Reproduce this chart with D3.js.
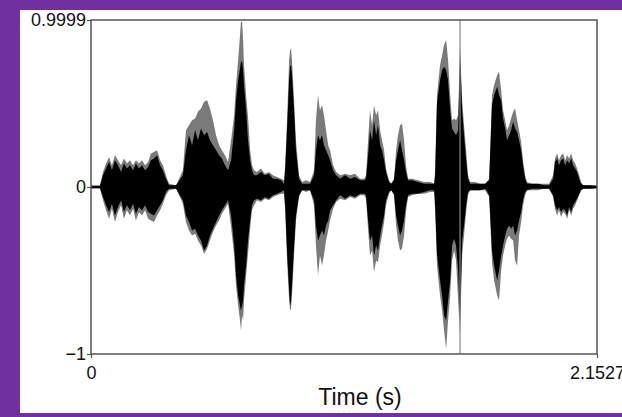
<!DOCTYPE html>
<html><head><meta charset="utf-8">
<script src="https://cdn.jsdelivr.net/npm/d3@7"></script>
<style>html,body{margin:0;padding:0;background:#7030a0;} svg{display:block}</style>
</head><body>
<svg id="c" width="622" height="417"></svg>
<script>
// Time (s) of envelope key points
const times = [
0, 0.038, 0.051, 0.064, 0.077, 0.089, 0.102, 0.115, 0.128, 0.140,
0.153, 0.166, 0.179, 0.191, 0.204, 0.217, 0.230, 0.243, 0.255, 0.268,
0.281, 0.294, 0.306, 0.319, 0.332, 0.362, 0.391, 0.404, 0.417, 0.430,
0.443, 0.455, 0.468, 0.481, 0.494, 0.506, 0.519, 0.532, 0.545, 0.557,
0.570, 0.583, 0.596, 0.609, 0.617, 0.626, 0.634, 0.638, 0.643, 0.647,
0.651, 0.660, 0.668, 0.677, 0.685, 0.694, 0.706, 0.723, 0.740, 0.757,
0.774, 0.791, 0.809, 0.821, 0.826, 0.834, 0.843, 0.847, 0.851, 0.855,
0.864, 0.872, 0.885, 0.898, 0.915, 0.932, 0.949, 0.957, 0.966, 0.974,
0.983, 0.991, 1.000, 1.009, 1.017, 1.030, 1.043, 1.060, 1.081, 1.102,
1.123, 1.145, 1.162, 1.170, 1.179, 1.187, 1.196, 1.204, 1.213, 1.221,
1.230, 1.238, 1.247, 1.255, 1.268, 1.277, 1.289, 1.298, 1.306, 1.315,
1.323, 1.332, 1.340, 1.349, 1.366, 1.391, 1.417, 1.443, 1.460, 1.464,
1.472, 1.485, 1.494, 1.502, 1.511, 1.519, 1.528, 1.536, 1.545, 1.553,
1.562, 1.570, 1.579, 1.587, 1.596, 1.604, 1.613, 1.634, 1.655, 1.677,
1.694, 1.706, 1.715, 1.728, 1.736, 1.745, 1.753, 1.762, 1.770, 1.779,
1.787, 1.796, 1.804, 1.813, 1.821, 1.830, 1.838, 1.847, 1.855, 1.877,
1.902, 1.928, 1.949, 1.966, 1.974, 1.983, 1.991, 2.000, 2.009, 2.017,
2.026, 2.034, 2.043, 2.051, 2.060, 2.068, 2.077, 2.085, 2.094, 2.123,
2.1527];

// dense (black) envelope, upper and lower
const blackTop = [
.006,.006,.07,.11,.15,.10,.16,.13,.09,.14,
.11,.13,.10,.14,.11,.13,.10,.12,.16,.17,
.19,.13,.10,.05,.01,.01,.07,.22,.31,.25,
.34,.28,.35,.31,.33,.28,.25,.22,.19,.17,
.13,.10,.16,.34,.52,.64,.71,.75,.75,.70,
.61,.46,.28,.16,.10,.07,.07,.09,.07,.08,
.05,.05,.04,.02,.10,.34,.64,.72,.73,.67,
.46,.22,.05,.02,.02,.02,.07,.22,.31,.28,
.31,.25,.22,.19,.16,.10,.07,.05,.07,.05,
.06,.04,.04,.05,.19,.34,.28,.40,.31,.37,
.25,.22,.16,.09,.03,.02,.04,.16,.22,.28,
.22,.16,.09,.04,.04,.03,.02,.02,.02,.07,
.50,.64,.70,.72,.70,.64,.46,.35,.33,.31,
.34,.79,.46,.31,.16,.05,.02,.02,.02,.02,
.04,.49,.55,.60,.55,.52,.41,.35,.28,.31,
.34,.39,.35,.33,.28,.22,.13,.05,.02,.02,
.02,.01,.01,.05,.15,.17,.13,.16,.17,.13,
.16,.14,.17,.13,.11,.09,.05,.02,.01,.01,
.006];
const blackBottom = [
-.006,-.006,-.06,-.11,-.15,-.10,-.17,-.12,-.08,-.15,
-.11,-.14,-.10,-.16,-.12,-.14,-.11,-.15,-.16,-.17,
-.14,-.11,-.08,-.03,-.01,-.01,-.08,-.17,-.21,-.26,
-.25,-.29,-.32,-.38,-.35,-.29,-.25,-.21,-.17,-.14,
-.11,-.08,-.17,-.35,-.53,-.65,-.71,-.74,-.71,-.68,
-.59,-.47,-.32,-.20,-.11,-.08,-.07,-.08,-.06,-.07,
-.05,-.04,-.03,-.02,-.11,-.38,-.62,-.71,-.68,-.59,
-.35,-.17,-.05,-.02,-.02,-.02,-.08,-.23,-.32,-.29,
-.26,-.29,-.23,-.20,-.14,-.11,-.08,-.05,-.07,-.05,
-.06,-.04,-.04,-.05,-.20,-.32,-.29,-.41,-.35,-.38,
-.29,-.23,-.17,-.08,-.03,-.02,-.04,-.17,-.23,-.29,
-.26,-.20,-.11,-.05,-.04,-.04,-.03,-.02,-.02,-.11,
-.40,-.56,-.65,-.77,-.80,-.68,-.56,-.35,-.31,-.35,
-.50,-.80,-.32,-.23,-.11,-.03,-.02,-.02,-.02,-.01,
-.05,-.38,-.47,-.56,-.50,-.41,-.35,-.29,-.25,-.23,
-.25,-.23,-.29,-.26,-.20,-.15,-.08,-.03,-.02,-.01,
-.01,-.01,-.01,-.05,-.11,-.14,-.12,-.15,-.13,-.14,
-.17,-.12,-.15,-.11,-.09,-.07,-.04,-.02,-.01,-.01,
-.006];
// sparse (grey) outer envelope, upper and lower
const greyTop = [
.01,.01,.09,.14,.18,.13,.19,.16,.13,.17,
.14,.16,.13,.16,.14,.16,.13,.15,.20,.21,
.22,.16,.13,.07,.02,.01,.10,.34,.37,.40,
.41,.45,.47,.51,.52,.47,.40,.31,.25,.22,
.19,.15,.28,.43,.61,.76,.91,.99,.99,.88,
.73,.55,.42,.22,.13,.10,.09,.11,.08,.09,
.07,.06,.05,.04,.13,.40,.76,.82,.83,.76,
.52,.28,.07,.03,.04,.03,.10,.40,.55,.46,
.49,.43,.34,.25,.22,.13,.09,.07,.08,.07,
.08,.05,.05,.07,.28,.46,.37,.49,.43,.46,
.34,.28,.22,.11,.04,.02,.05,.22,.31,.37,
.38,.28,.13,.05,.05,.04,.03,.03,.02,.10,
.55,.73,.79,.85,.88,.76,.55,.40,.41,.40,
.43,.85,.52,.37,.22,.07,.03,.03,.02,.02,
.05,.55,.61,.67,.69,.58,.46,.40,.34,.37,
.41,.45,.47,.40,.34,.27,.16,.07,.03,.02,
.02,.02,.02,.07,.17,.20,.16,.19,.20,.16,
.19,.17,.20,.16,.14,.11,.07,.03,.01,.01,
.01];
const greyBottom = [
-.01,-.01,-.08,-.14,-.19,-.13,-.21,-.15,-.11,-.19,
-.14,-.17,-.13,-.20,-.15,-.17,-.14,-.19,-.20,-.21,
-.17,-.14,-.10,-.05,-.02,-.01,-.10,-.21,-.26,-.29,
-.28,-.32,-.35,-.40,-.37,-.32,-.27,-.23,-.20,-.16,
-.13,-.10,-.24,-.41,-.59,-.71,-.80,-.86,-.77,-.80,
-.68,-.53,-.40,-.25,-.14,-.11,-.08,-.09,-.07,-.08,
-.06,-.05,-.04,-.04,-.14,-.44,-.68,-.74,-.73,-.65,
-.41,-.20,-.06,-.02,-.03,-.02,-.11,-.35,-.53,-.41,
-.47,-.41,-.32,-.26,-.20,-.13,-.09,-.07,-.08,-.06,
-.07,-.05,-.05,-.07,-.26,-.41,-.38,-.51,-.44,-.45,
-.35,-.29,-.21,-.11,-.04,-.02,-.05,-.23,-.32,-.38,
-.37,-.29,-.15,-.06,-.05,-.04,-.04,-.03,-.03,-.14,
-.47,-.65,-.74,-.86,-.97,-.80,-.65,-.44,-.38,-.44,
-.68,-.89,-.41,-.29,-.15,-.05,-.02,-.02,-.02,-.02,
-.06,-.45,-.56,-.65,-.68,-.50,-.41,-.35,-.31,-.29,
-.31,-.32,-.44,-.47,-.29,-.21,-.11,-.05,-.02,-.02,
-.02,-.01,-.01,-.06,-.13,-.17,-.14,-.18,-.15,-.16,
-.19,-.14,-.17,-.13,-.11,-.08,-.05,-.02,-.01,-.01,
-.01];

const timeDomain = [0, 2.1527];
const ampDomain = [-1, 0.9999];
const yTickValues = [0.9999, 0, -1];
const yTickLabels = ["0.9999", "0", "\u22121"];
const xTickValues = [0, 2.1527];
const xTickLabels = ["0", "2.1527"];
const xTitle = "Time (s)";
const cursorTime = 1.570;

const W = 622, H = 417;
const font = "'Liberation Sans', Arial, Helvetica, sans-serif";
const svg = d3.select("#c");
svg.append("rect").attr("width", W).attr("height", H).attr("fill", "#7030a0");
svg.append("rect").attr("x", 20).attr("y", 10).attr("width", W - 20).attr("height", 403).attr("fill", "#fff");

const x = d3.scaleLinear().domain(timeDomain).range([91, 597]);
const y = d3.scaleLinear().domain(ampDomain).range([354, 20]);

const n = Math.min(times.length, blackTop.length, blackBottom.length, greyTop.length, greyBottom.length);
const data = d3.range(n).map(i => ({t: times[i], bT: blackTop[i], bB: blackBottom[i], gT: greyTop[i], gB: greyBottom[i]}));

svg.append("line")
  .attr("x1", x(timeDomain[0])).attr("x2", x(timeDomain[1]))
  .attr("y1", y(0)).attr("y2", y(0))
  .attr("stroke", "#b0b0b0").attr("stroke-width", 1).attr("stroke-dasharray", "1,2");

svg.append("path").datum(data)
  .attr("d", d3.area().x(d => x(d.t)).y0(d => y(d.gB)).y1(d => y(d.gT)))
  .attr("fill", "#7a7a7a");
svg.append("path").datum(data)
  .attr("d", d3.area().x(d => x(d.t)).y0(d => y(d.bB)).y1(d => y(d.bT)))
  .attr("fill", "#000");

svg.append("line")
  .attr("x1", x(cursorTime)).attr("x2", x(cursorTime))
  .attr("y1", y(ampDomain[1])).attr("y2", y(ampDomain[0]))
  .attr("stroke", "#888").attr("stroke-width", 1.2);

svg.append("rect")
  .attr("x", x(timeDomain[0])).attr("y", y(ampDomain[1]))
  .attr("width", x(timeDomain[1]) - x(timeDomain[0]))
  .attr("height", y(ampDomain[0]) - y(ampDomain[1]))
  .attr("fill", "none").attr("stroke", "#555").attr("stroke-width", 1.5);

const gy = svg.append("g").attr("transform", `translate(${x(timeDomain[0])},0)`)
  .call(d3.axisLeft(y).tickValues(yTickValues).tickFormat((d, i) => yTickLabels[i]).tickSize(4).tickPadding(1));
const gx = svg.append("g").attr("transform", `translate(0,${y(ampDomain[0])})`)
  .call(d3.axisBottom(x).tickValues(xTickValues).tickFormat((d, i) => xTickLabels[i]).tickSize(4).tickPadding(8));
[gy, gx].forEach(g => {
  g.select(".domain").remove();
  g.selectAll(".tick line").attr("stroke", "#555").attr("stroke-width", 1.2);
  g.selectAll(".tick text").attr("fill", "#111").style("font-family", font).style("font-size", "18px");
});

svg.append("text")
  .attr("x", 360).attr("y", 405)
  .attr("text-anchor", "middle")
  .style("font-family", font).style("font-size", "23px").attr("fill", "#111")
  .text(xTitle);
</script>
</body></html>
